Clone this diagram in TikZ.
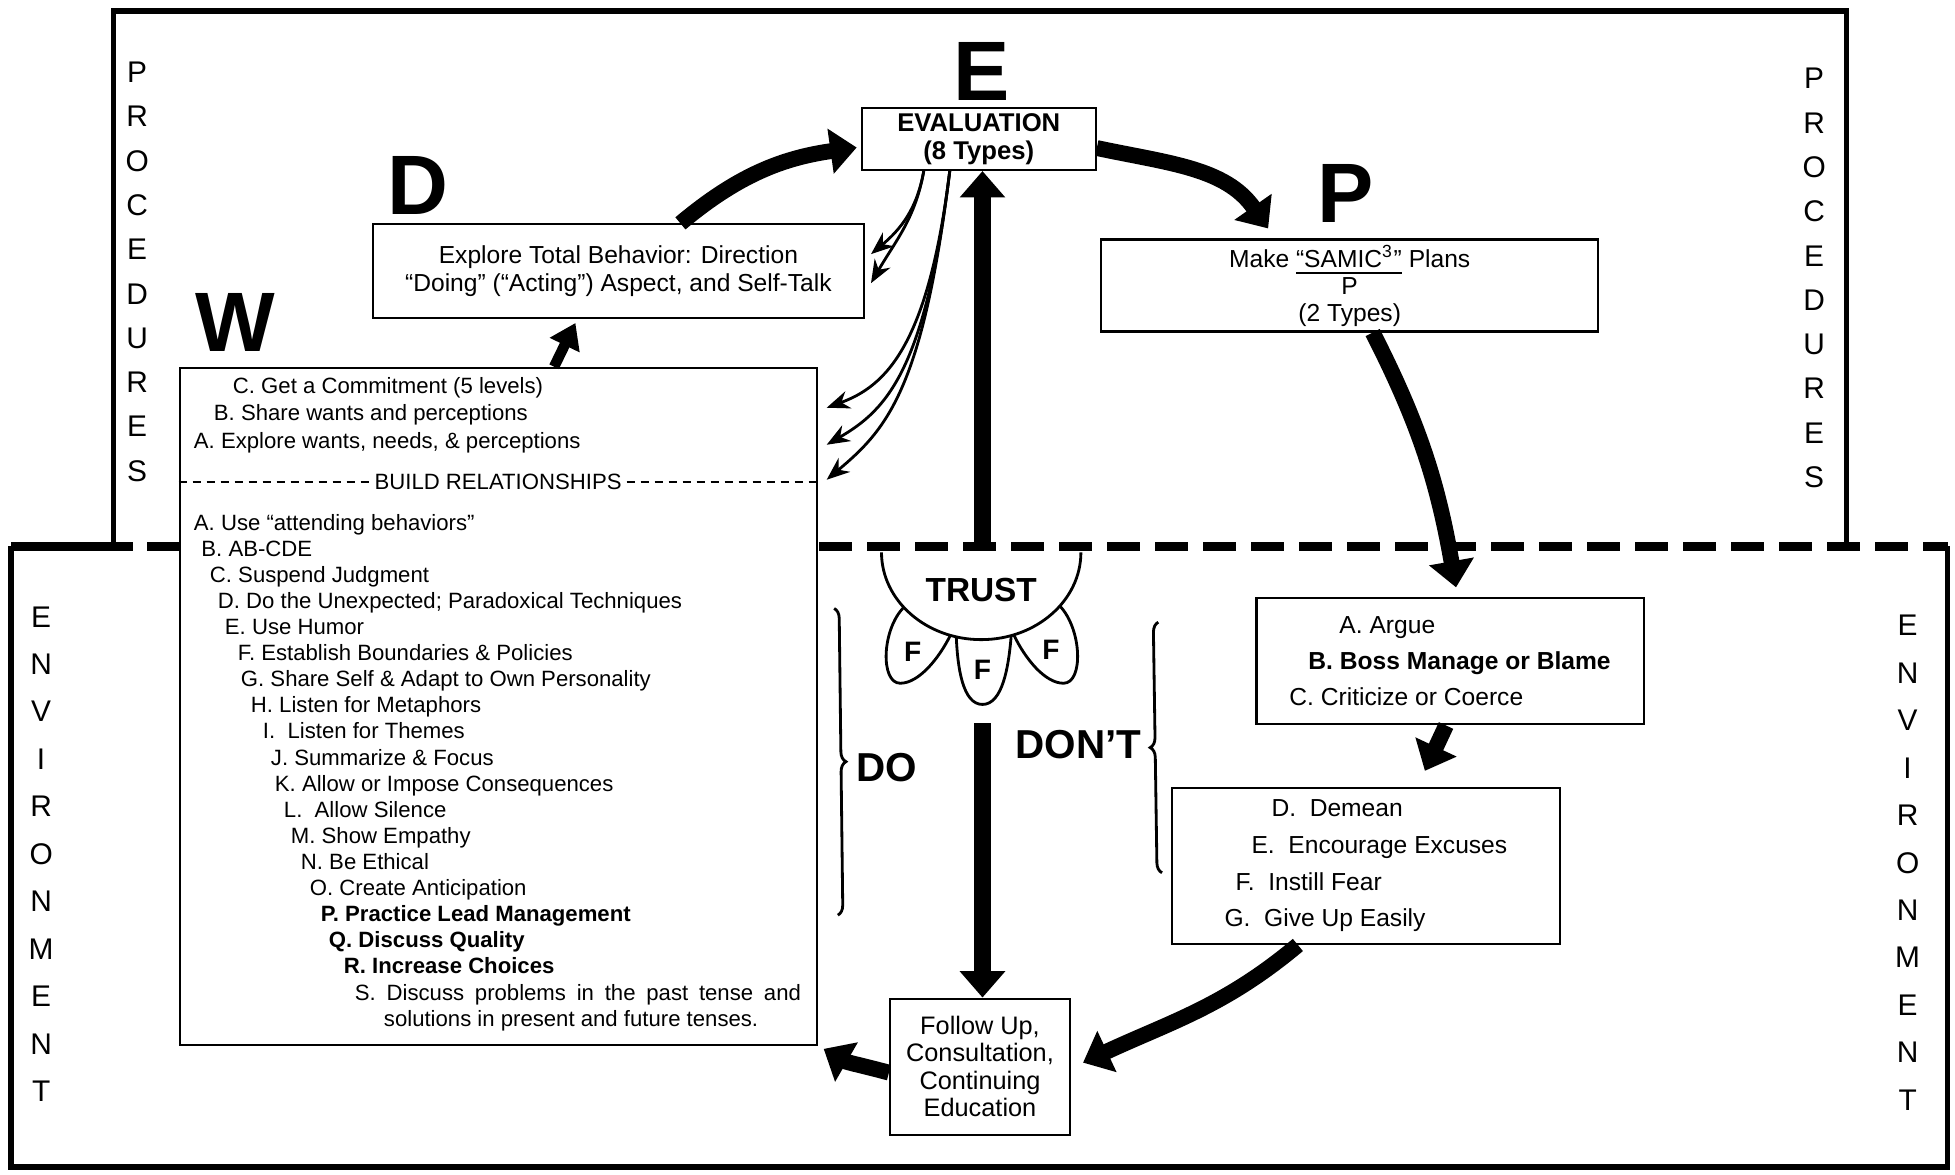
\documentclass[tikz,border=0pt]{standalone}
\usepackage{fontspec}
\setmainfont{Liberation Sans}
\usetikzlibrary{arrows.meta,decorations.pathreplacing}

\begin{document}
\begin{tikzpicture}[
    x=0.12468mm, y=0.12468mm,
    box/.style={draw, line width=0.6pt, fill=white, inner sep=0pt, align=center},
    big/.style={font=\fontsize{24}{24}\selectfont\bfseries, inner sep=0pt},
    side/.style={align=center, inner sep=0pt},
    fat/.style={line width=4.5pt, -{Triangle[width=12.5pt,length=7.5pt]}},
    thinarrow/.style={line width=0.8pt, -{Stealth[length=2.3mm,width=1.8mm]}},
    framelines/.style={line width=1.6pt},
    curly/.style={decorate, decoration={brace, amplitude=1mm}, line width=0.8pt}
]
\useasboundingbox (0,0) rectangle (1568,-942);

% procedures / environment frames
\draw[framelines] (91,-438) -- (91,-9) -- (1481,-9) -- (1481,-438);
\draw[framelines] (9,-438) -- (9,-936) -- (1562,-936) -- (1562,-438);
\draw[line width=2.6pt] (9,-438) -- (107,-438);
\draw[line width=2.6pt, dash pattern=on 3.3mm off 1.5mm] (118,-438) -- (1562,-438);

\node[side, font=\fontsize{8.5}{12.6}\selectfont] (procL) at (110,-218) {P\\R\\O\\C\\E\\D\\U\\R\\E\\S};
\node[side, font=\fontsize{8.5}{12.6}\selectfont] (procR) at (1455,-223) {P\\R\\O\\C\\E\\D\\U\\R\\E\\S};
\node[side, font=\fontsize{8.5}{13.5}\selectfont] (envL) at (33,-685) {E\\N\\V\\I\\R\\O\\N\\M\\E\\N\\T};
\node[side, font=\fontsize{8.5}{13.5}\selectfont] (envR) at (1530,-692) {E\\N\\V\\I\\R\\O\\N\\M\\E\\N\\T};

\node[big] (bigE) at (787,-57) {E};
\node[big] (bigD) at (335,-149) {D};
\node[big] (bigW) at (189,-259) {W};
\node[big] (bigP) at (1079,-155) {P};

\node[box, minimum width=23.4mm, minimum height=6.2mm, font=\fontsize{7.3}{7.8}\selectfont\bfseries] (evalbox) at (785,-111.5) {EVALUATION\\(8 Types)};
\node[box, minimum width=49.1mm, minimum height=9.35mm, font=\fontsize{7}{8}\selectfont] (dbox) at (496,-217.5) {Explore Total Behavior: Direction\\“Doing” (“Acting”) Aspect, and Self-Talk};
\node[box, minimum width=49.7mm, minimum height=9.2mm, font=\fontsize{7}{7.6}\selectfont] (pbox) at (1082.5,-229) {Make \underline{“SAMIC\textsuperscript{3}”} Plans\\P\\(2 Types)};
\node[box, minimum width=63.7mm, minimum height=67.7mm] (wbox) at (399.5,-566.5) {};
\node[box, minimum width=18mm, minimum height=13.6mm, font=\fontsize{7.2}{7.8}\selectfont] (fubox) at (786,-855.5) {Follow Up,\\Consultation,\\Continuing\\Education};
\node[box, align=left, minimum width=38.7mm, minimum height=12.6mm, font=\fontsize{7}{10.3}\selectfont] (dontA) at (1163,-530.5) {\hspace*{5mm}A. Argue\\\hspace*{1.9mm}\textbf{B. Boss Manage or Blame}\\C. Criticize or Coerce};
\node[box, align=left, minimum width=38.8mm, minimum height=15.6mm, font=\fontsize{7}{10.4}\selectfont] (dontB) at (1095.5,-694.5) {\hspace*{4.7mm}D.\ \ Demean\\\hspace*{2.7mm}E.\ \ Encourage Excuses\\\hspace*{1.1mm}F.\ \ Instill Fear\\G.\ \ Give Up Easily};

% W box contents
\node[anchor=west, align=left, inner sep=0pt, font=\fontsize{6.3}{7.8}\selectfont] (wtop) at (155,-333) {\hspace*{3.9mm}C. Get a Commitment (5 levels)\\\hspace*{2mm}B. Share wants and perceptions\\A. Explore wants, needs, \& perceptions};
\draw[line width=0.6pt, dash pattern=on 0.8mm off 0.6mm] ([yshift=-11.5mm]wbox.north west) -- ([yshift=-11.5mm]wbox.north east);
\node[fill=white, inner sep=1pt, font=\fontsize{6.3}{7.8}\selectfont] (wbuild) at ([yshift=-11.5mm]wbox.north) {BUILD RELATIONSHIPS};
\node[anchor=west, align=left, inner sep=0pt, font=\fontsize{6.3}{7.43}\selectfont] (wlist) at (155,-619.5) {A. Use “attending behaviors”\\
\hspace*{0.75mm}B. AB-CDE\\
\hspace*{1.6mm}C. Suspend Judgment\\
\hspace*{2.4mm}D. Do the Unexpected; Paradoxical Techniques\\
\hspace*{3.1mm}E. Use Humor\\
\hspace*{4.4mm}F. Establish Boundaries \& Policies\\
\hspace*{4.7mm}G. Share Self \& Adapt to Own Personality\\
\hspace*{5.7mm}H. Listen for Metaphors\\
\hspace*{6.9mm}I.\ \ Listen for Themes\\
\hspace*{7.7mm}J. Summarize \& Focus\\
\hspace*{8.1mm}K. Allow or Impose Consequences\\
\hspace*{9mm}L.\ \ Allow Silence\\
\hspace*{9.7mm}M. Show Empathy\\
\hspace*{10.7mm}N. Be Ethical\\
\hspace*{11.6mm}O. Create Anticipation\\
\hspace*{12.7mm}\textbf{P. Practice Lead Management}\\
\hspace*{13.5mm}\textbf{Q. Discuss Quality}\\
\hspace*{15mm}\textbf{R. Increase Choices}\\
\hspace*{16.1mm}\makebox[44.6mm][s]{S. Discuss problems in the past tense and}\\
\hspace*{19mm}solutions in present and future tenses.};

% trust and the three F's
\coordinate (trusttop) at (788,-438);
\coordinate (dnstart) at (788,-580);
\draw[line width=0.8pt] (707,-443) arc[start angle=180, end angle=360, x radius=9.97mm, y radius=8.73mm];
\draw[line width=0.8pt] (762,-510) .. controls (753,-528) and (737,-548) .. (722,-548) .. controls (706,-548) and (707,-505) .. (725,-487);
\draw[line width=0.8pt] (767,-511) .. controls (768,-535) and (772,-565) .. (788,-565) .. controls (804,-565) and (809,-535) .. (811,-510);
\draw[line width=0.8pt] (813,-509) .. controls (822,-528) and (838,-548) .. (853,-548) .. controls (869,-548) and (868,-505) .. (850,-486);
\node[font=\fontsize{9.5}{9.5}\selectfont\bfseries] (trust) at (787,-473) {TRUST};
\node[font=\fontsize{8}{8}\selectfont\bfseries] (f1) at (732,-523) {F};
\node[font=\fontsize{8}{8}\selectfont\bfseries] (f2) at (788,-537) {F};
\node[font=\fontsize{8}{8}\selectfont\bfseries] (f3) at (843,-521) {F};

\draw[curly] (669,-488) -- (672,-734);
\draw[curly] (932,-700) -- (929,-499);
\node[font=\fontsize{11.5}{11.5}\selectfont\bfseries] (do) at (711,-616) {DO};
\node[font=\fontsize{11.5}{11.5}\selectfont\bfseries] (dont) at (865,-597) {DON’T};

% arrows
\draw[fat, line width=5pt] (trusttop) -- (trusttop |- evalbox.south);
\draw[fat, line width=5pt] (dnstart) -- (dnstart |- fubox.north);
\draw[fat] ([xshift=6.2mm]dbox.north) to[out=40,in=188] ([xshift=-0.4mm,yshift=-0.85mm]evalbox.west);
\draw[fat] ([yshift=-0.9mm]evalbox.east) to[out=-12,in=125] ([xshift=16.8mm,yshift=1mm]pbox.north west);
\draw[fat] ([xshift=2.3mm]pbox.south) to[out=-63,in=100] ([xshift=0.6mm,yshift=1mm]dontA.north);
\draw[fat] ([xshift=-0.4mm]dontA.south) -- ([xshift=5.9mm,yshift=1.6mm]dontB.north);
\draw[fat] ([xshift=-6.8mm]dontB.south) to[out=-140,in=25] ([xshift=1.2mm,yshift=0.4mm]fubox.east);
\draw[fat] ([yshift=-0.6mm]fubox.west) to[out=165,in=-30] ([xshift=0.6mm,yshift=-0.3mm]wbox.south east);
\draw[fat, line width=3pt, -{Triangle[width=9pt,length=7pt]}] ([xshift=5.6mm]wbox.north) -- ([xshift=-4.3mm,yshift=-0.4mm]dbox.south);

\draw[thinarrow] ([xshift=-5.5mm]evalbox.south) to[out=-100,in=40] ([xshift=0.6mm,yshift=1.7mm]dbox.east);
\draw[thinarrow] ([xshift=-5.5mm]evalbox.south) to[out=-100,in=60] ([xshift=0.6mm,yshift=-1.2mm]dbox.east);
\draw[thinarrow] ([xshift=-2.9mm]evalbox.south) to[out=-97,in=20,out looseness=1.7,in looseness=0.6] ([xshift=0.9mm,yshift=-4.1mm]wbox.north east);
\draw[thinarrow] ([xshift=-2.9mm]evalbox.south) to[out=-97,in=30,out looseness=1.7,in looseness=0.6] ([xshift=0.9mm,yshift=-7.8mm]wbox.north east);
\draw[thinarrow] ([xshift=-2.9mm]evalbox.south) to[out=-97,in=40,out looseness=1.7,in looseness=0.6] ([xshift=0.9mm,yshift=-11.3mm]wbox.north east);
\end{tikzpicture}
\end{document}
